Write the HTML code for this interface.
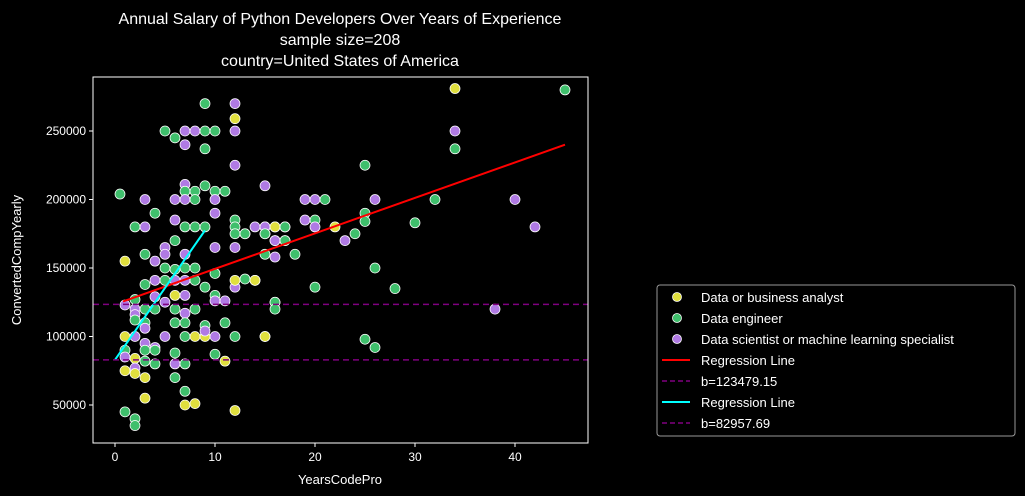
<!DOCTYPE html>
<html><head><meta charset="utf-8"><style>
body{margin:0;background:#000;}
svg{display:block;font-family:"Liberation Sans","DejaVu Sans",sans-serif;}
</style></head><body>
<svg id="chart" width="1025" height="496" viewBox="0 0 1025 496">
<rect width="1025" height="496" fill="#000"/>
<g id="title" fill="#fff" font-size="16" text-anchor="middle">
<text x="340" y="24">Annual Salary of Python Developers Over Years of Experience</text>
<text x="340" y="45">sample size=208</text>
<text x="340" y="66">country=United States of America</text>
</g>
<g id="plot"></g>
<text x="340" y="484" fill="#fff" font-size="13" text-anchor="middle">YearsCodePro</text>
<text x="0" y="0" fill="#fff" font-size="13" text-anchor="middle" transform="translate(21,260) rotate(-90)">ConvertedCompYearly</text>
<g id="legend"></g>
</svg>
<script>
const xTicks=[0,10,20,30,40];
const yTicks=[50000,100000,150000,200000,250000];
const categories=["Data or business analyst","Data engineer","Data scientist or machine learning specialist"];
const colors=["#e0df3e","#3fbf6c","#b07ae4"];
// category index 0=analyst,1=engineer,2=scientist
const pointYears=[9,12,12,5,7,8,9,10,12,6,7,9,12,7,9,0.5,7,8,10,11,3,6,7,8,10,4,10,6,12,2,3,7,8,9,12,13,15,16,17,12,13,15,6,16,17,3,5,5,7,10,12,1,4,5,6,7,8,3,4,5,6,7,8,9,10,12,12,13,14,1,2,4,5,6,7,10,10,11,16,2,2,2,3,3,3,4,6,7,8,6,7,9,11,1,2,5,7,8,9,9,10,12,15,1,1,3,3,4,4,2,3,4,6,6,7,10,11,1,2,2,3,6,7,7,8,3,1,12,2,2,
34,45,34,34,25,15,19,20,21,26,32,40,25,20,19,25,30,42,14,15,16,17,15,20,22,16,17,23,24,15,16,18,26,14,20,28,16,16,38,15,25,26];
const pointSalaries=[270000,270000,259000,250000,250000,250000,250000,250000,250000,245000,240000,237000,225000,211000,210000,204000,206000,206000,206000,206000,200000,200000,200000,200000,200000,190000,190000,185000,185000,180000,180000,180000,180000,180000,180000,175000,180000,180000,180000,175000,175000,175000,170000,170000,170000,160000,165000,160000,160000,165000,165000,155000,155000,150000,149000,150000,150000,138000,141000,141000,141000,141000,141000,136000,146000,136000,141000,142000,141000,123000,127000,129000,125000,130000,130000,130000,126000,126000,125000,120000,116000,112000,120000,110000,106000,120000,120000,117000,120000,110000,110000,108000,110000,100000,100000,100000,100000,100000,100000,104000,100000,100000,100000,90000,85000,95000,90000,92000,90000,84000,82000,80000,88000,80000,80000,87000,82000,75000,77000,73000,70000,70000,60000,50000,51000,55000,45000,46000,40000,35000,
281000,280000,250000,237000,225000,210000,200000,200000,200000,200000,200000,200000,190000,185000,185000,184000,183000,180000,180000,180000,180000,180000,175000,180000,180000,170000,170000,170000,175000,160000,158000,160000,150000,141000,136000,135000,125000,120000,120000,100000,98000,92000];
const pointCats=[1,2,0,1,2,2,1,1,2,1,2,1,2,2,1,1,1,1,1,1,2,2,2,1,2,1,2,2,1,1,2,1,1,1,1,1,0,1,1,1,1,2,1,1,2,1,2,2,2,2,2,0,2,1,1,1,1,1,2,1,2,2,1,1,1,2,0,1,1,2,1,2,2,0,2,1,2,2,1,2,2,1,1,1,2,1,1,2,1,1,1,1,1,0,2,2,1,0,0,2,2,1,1,1,2,2,1,2,1,0,1,1,1,2,1,1,0,0,2,0,0,1,1,0,0,0,1,0,1,1,0,
1,2,1,1,2,2,2,1,2,1,2,1,1,2,1,1,2,2,2,0,1,1,2,0,2,1,2,1,1,2,1,1,0,1,1,1,1,2,0,1,1,1];
const regIntercepts=[123479.15,82957.69];
const regSlopes=[2590,10500];
const regRanges=[[0.8,45],[0,9]];
const regColors=["#ff0000","#00ffff"];
const hLines=[123479.15,82957.69];

const X0=93,X1=588,Y0=77,Y1=443;
const xs=v=>115+v*10;
const ys=v=>131+(250000-v)*68.5/50000;
const NS="http://www.w3.org/2000/svg";
const plot=document.getElementById('plot');
function mk(tag,attrs,parent){const e=document.createElementNS(NS,tag);for(const k in attrs)e.setAttribute(k,attrs[k]);(parent||plot).appendChild(e);return e;}

xTicks.forEach(t=>{
  const l=mk('line',{x1:xs(t),x2:xs(t),y1:Y1,y2:Y1+4,stroke:'#fff'});
  
  
  const tx=mk('text',{x:xs(t),y:Y1+18,fill:'#fff','font-size':12,'text-anchor':'middle'});
  tx.textContent=t;
  
  
});
yTicks.forEach(t=>{
  const l=mk('line',{x1:X0-4,x2:X0,y1:ys(t),y2:ys(t),stroke:'#fff'});
  
  
  const tx=mk('text',{x:X0-7,y:ys(t)+4,fill:'#fff','font-size':12,'text-anchor':'end'});
  tx.textContent=t;
  
  
});
pointYears.forEach((yr,i)=>{
  const c=mk('circle',{cx:xs(yr),cy:ys(pointSalaries[i]),r:5,fill:colors[pointCats[i]],stroke:'#fff','stroke-width':0.75});
  
  
});
regIntercepts.forEach((b,i)=>{
  const [a,z]=regRanges[i];
  const l=mk('line',{x1:xs(a),y1:ys(b+regSlopes[i]*a),x2:xs(z),y2:ys(b+regSlopes[i]*z),stroke:regColors[i],'stroke-width':2});
  
  
});
hLines.forEach(v=>{
  const l=mk('line',{x1:X0,x2:X1,y1:ys(v),y2:ys(v),stroke:'#800080','stroke-width':1.5,'stroke-dasharray':'6,4'});
  
  
});
const frame=mk('rect',{x:X0,y:Y0,width:X1-X0,height:Y1-Y0,fill:'none',stroke:'#fff','stroke-width':1});



const lg=document.getElementById('legend');
mk('rect',{x:657,y:285,width:358,height:151,rx:3,fill:'#000',stroke:'#999'},lg);
const entries=[
 {t:'m',c:colors[0],l:categories[0]},{t:'m',c:colors[1],l:categories[1]},{t:'m',c:colors[2],l:categories[2]},
 {t:'l',c:'#ff0000',l:'Regression Line'},{t:'d',c:'#800080',l:'b=123479.15'},
 {t:'l',c:'#00ffff',l:'Regression Line'},{t:'d',c:'#800080',l:'b=82957.69'}];
entries.forEach((e,i)=>{
  const y=297+i*21;
  const g=mk('g',{},lg);
  
  
  if(e.t==='m') mk('circle',{cx:677,cy:y,r:4.5,fill:e.c,stroke:'#fff','stroke-width':0.75},g);
  else mk('line',{x1:662,x2:690,y1:y,y2:y,stroke:e.c,'stroke-width':e.t==='l'?2:1.5,'stroke-dasharray':e.t==='d'?'5,3':'none'},g);
  const tx=mk('text',{x:701,y:y+5,fill:'#fff','font-size':13},g);
  tx.textContent=e.l;
});
</script>
</body></html>
